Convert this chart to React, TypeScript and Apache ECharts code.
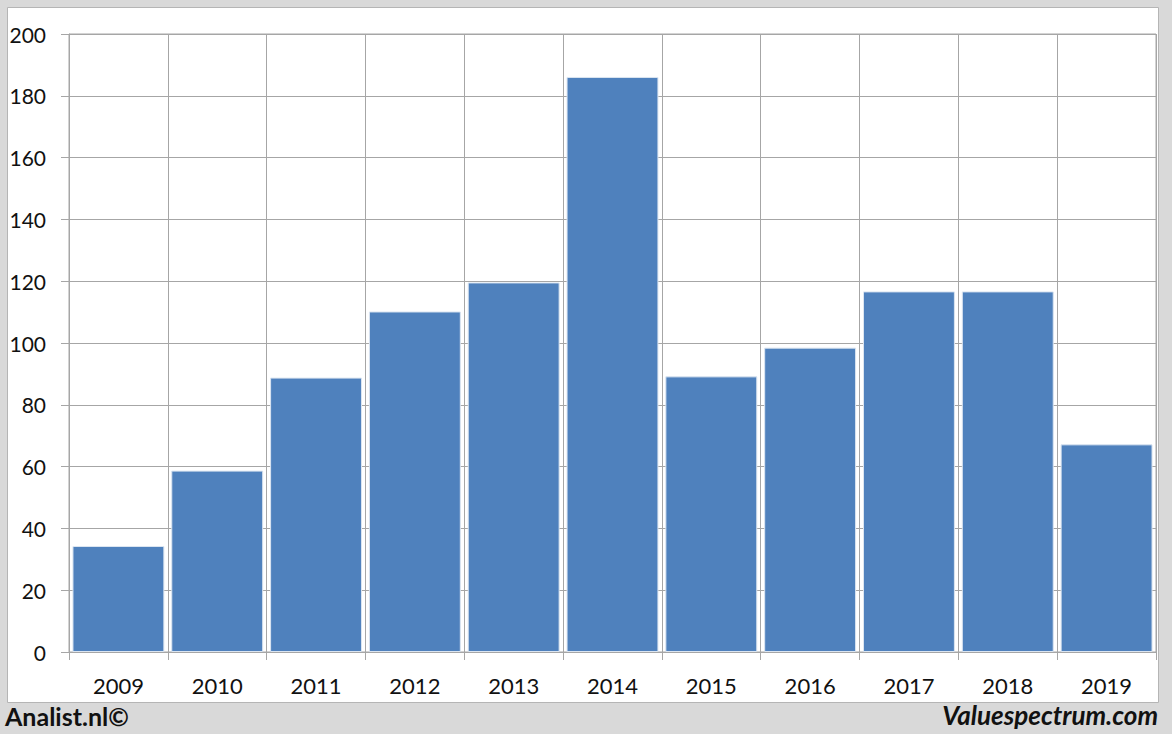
import React, { useEffect, useRef } from "react";
import * as echarts from "echarts";

const years = ["2009", "2010", "2011", "2012", "2013", "2014", "2015", "2016", "2017", "2018", "2019"];
const values = [34.3, 58.7, 88.8, 110.2, 119.6, 186.1, 89.2, 98.5, 116.7, 116.7, 67.2];
const yMin = 0;
const yMax = 200;
const yStep = 20;

export default function App() {
  const ref = useRef<HTMLDivElement>(null);
  useEffect(() => {
    document.body.style.margin = "0";
    const chart = echarts.init(ref.current!, null, { renderer: "svg" });
    const font = "Lato, 'Open Sans', sans-serif";
    chart.setOption({
      animation: false,
      backgroundColor: "#d9d9d9",
      graphic: [
        {
          type: "rect",
          z: -10,
          shape: { x: 7.5, y: 7.5, width: 1151, height: 695 },
          style: { fill: "#ffffff", stroke: "#b5b5b5", lineWidth: 1 },
        },
        {
          type: "text",
          left: 5,
          top: 703,
          style: { text: "Analist.nl©", font: `bold 25px ${font}`, fill: "#111" },
        },
        {
          type: "text",
          right: 14,
          top: 702,
          style: { text: "Valuespectrum.com", font: `italic bold 26px ${font}`, fill: "#111" },
        },
      ],
      grid: {
        left: 69,
        top: 34,
        right: 16,
        bottom: 82,
        show: true,
        borderColor: "#a6a6a6",
        borderWidth: 1,
      },
      xAxis: {
        type: "category",
        data: years,
        boundaryGap: true,
        axisLine: { lineStyle: { color: "#a6a6a6" } },
        axisTick: { show: true, length: 8, lineStyle: { color: "#a6a6a6" } },
        splitLine: { show: true, lineStyle: { color: "#a6a6a6" } },
        axisLabel: { color: "#111", fontSize: 22, fontFamily: font, margin: 22 },
      },
      yAxis: {
        type: "value",
        min: yMin,
        max: yMax,
        interval: yStep,
        axisLine: { show: true, lineStyle: { color: "#a6a6a6" } },
        axisTick: { show: true, length: 8, lineStyle: { color: "#a6a6a6" } },
        splitLine: { show: true, lineStyle: { color: "#a6a6a6" } },
        axisLabel: { color: "#111", fontSize: 21, fontFamily: font, margin: 23 },
      },
      series: [
        {
          type: "bar",
          data: values,
          barCategoryGap: "7%",
          itemStyle: { color: "#4f81bd", borderColor: "#dbe5f1", borderWidth: 1 },
        },
      ],
    });
    return () => chart.dispose();
  }, []);
  return <div ref={ref} style={{ width: 1172, height: 734 }} />;
}
